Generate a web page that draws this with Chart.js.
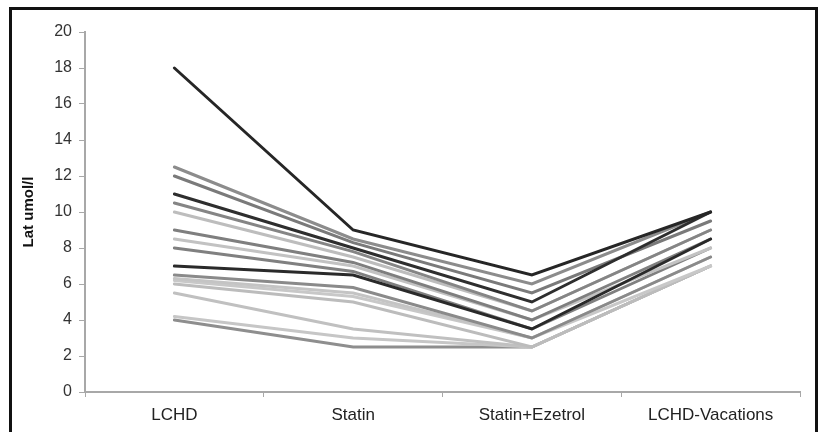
<!DOCTYPE html>
<html>
<head>
<meta charset="utf-8">
<script src="https://cdn.jsdelivr.net/npm/chart.js@4/dist/chart.umd.min.js"></script>
<style>
  html, body { margin: 0; padding: 0; background: #fff; }
  #wrap { position: relative; width: 819px; height: 432px; overflow: hidden; }
  #frame { position: absolute; left: 9px; top: 7px; width: 803px; height: 480px; border: 3px solid #111; }
  #c { position: absolute; left: 0; top: 0; }
</style>
</head>
<body>
<div id="wrap">
  <div id="frame"></div>
  <canvas id="c" width="819" height="432"></canvas>
</div>
<script>
// Categories (x axis)
const categories = ["LCHD", "Statin", "Statin+Ezetrol", "LCHD-Vacations"];
// Y axis ticks
const yTicks = [0, 2, 4, 6, 8, 10, 12, 14, 16, 18, 20];

// Patient series: values at LCHD, Statin, Statin+Ezetrol, LCHD-Vacations (Lat umol/l)
const patientA = [18, 9, 6.5, 10];
const patientB = [11, 8, 5, 10];
const patientC = [7, 6.5, 3.5, 8.5];
const patient2 = [12.5, 8.5, 6, 10];
const patient3 = [12, 8.3, 5.5, 9.5];
const patient5 = [10.5, 7.8, 4.5, 9];
const patient6 = [10, 7.5, 4.5, 9];
const patient7 = [9, 7.2, 4, 8.5];
const patient8 = [8.5, 7, 4, 8];
const patient9 = [8, 6.7, 3.5, 8];
const patient10 = [6.5, 5.8, 3, 7.5];
const patient11 = [6.3, 5.5, 3, 7.5];
const patient12 = [6.2, 5.3, 3, 7];
const patient13 = [6, 5, 2.5, 7];
const patient14 = [5.5, 3.5, 2.5, 7];
const patient15 = [4.2, 3, 2.5, 7];
const patient16 = [4, 2.5, 2.5, 7];

const seriesList = [patientA, patientB, patientC, patient2, patient3, patient5, patient6,
  patient7, patient8, patient9, patient10, patient11, patient12, patient13, patient14, patient15, patient16];
// line colours (style, kept separate from data)
const seriesColors = ["#262626", "#2e2e2e", "#2a2a2a", "#8c8c8c", "#7a7a7a", "#858585", "#bdbdbd",
  "#7f7f7f", "#c2c2c2", "#808080", "#8a8a8a", "#c4c4c4", "#c8c8c8", "#bcbcbc", "#c0c0c0", "#c6c6c6", "#8e8e8e"];

const FONT = "'Liberation Sans Narrow', 'Arial Narrow', 'Liberation Sans', sans-serif";

const datasets = seriesList.map((s, i) => ({
  data: s,
  borderColor: seriesColors[i],
  borderWidth: 3,
  pointRadius: 0,
  tension: 0,
  borderCapStyle: 'round',
  borderJoinStyle: 'miter',
  fill: false
}));

new Chart(document.getElementById('c'), {
  type: 'line',
  data: { labels: categories, datasets },
  options: {
    responsive: false,
    animation: false,
    plugins: { legend: { display: false }, tooltip: { enabled: false } },
    layout: { padding: { left: 0, right: 19, top: 32, bottom: 0 } },
    scales: {
      x: {
        offset: true,
        grid: { display: true, drawOnChartArea: false, offset: true, tickLength: 5, color: '#a8a8a8', tickColor: '#a8a8a8' },
        border: { display: true, color: '#a8a8a8', width: 2 },
        ticks: { color: '#222', font: { family: FONT, size: 17 }, padding: 8, maxRotation: 0, autoSkip: false },
        afterFit: (s) => { s.height = 40; }
      },
      y: {
        min: 0, max: 20,
        afterBuildTicks: (s) => { s.ticks = yTicks.map(v => ({ value: v })); },
        grid: { display: true, drawOnChartArea: false, tickLength: 6, color: '#a8a8a8', tickColor: '#a8a8a8' },
        border: { display: true, color: '#a8a8a8', width: 2 },
        ticks: { color: '#333', font: { family: FONT, size: 16 }, padding: 7 },
        title: { display: true, text: 'Lat umol/l', color: '#111', font: { family: FONT, size: 15, weight: 'bold' }, padding: { top: 20, bottom: 0 } },
        afterFit: (s) => { s.width = 85; }
      }
    }
  }
});
</script>
</body>
</html>
